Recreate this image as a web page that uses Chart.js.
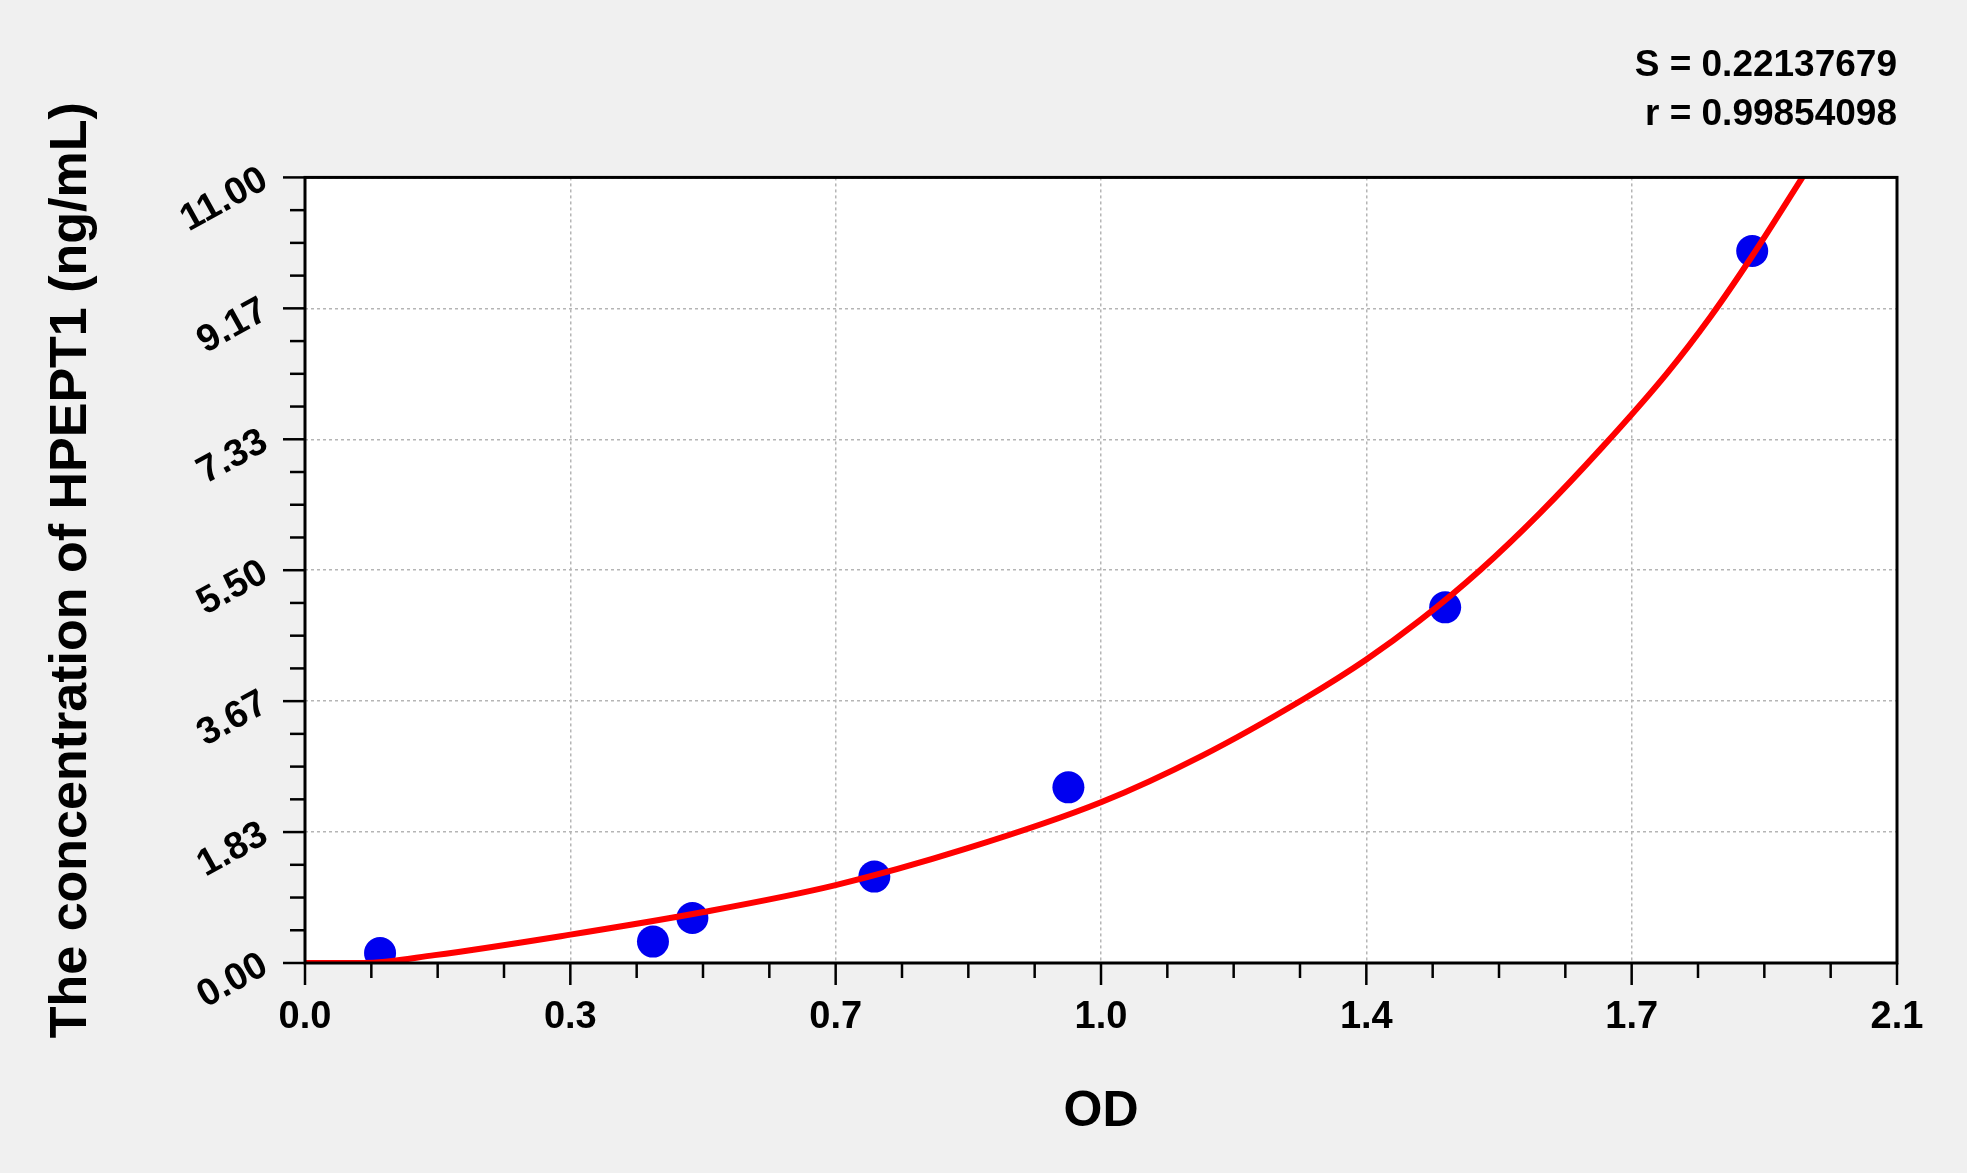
<!DOCTYPE html>
<html>
<head>
<meta charset="utf-8">
<script src="https://cdn.jsdelivr.net/npm/chart.js@4.4.1/dist/chart.umd.min.js"></script>
<style>
  html, body { margin: 0; padding: 0; background: #f0f0f0; }
  #wrap { width: 1967px; height: 1173px; }
</style>
</head>
<body>
<div id="wrap"><canvas id="c" width="1967" height="1173"></canvas></div>
<script>
// ---- data ----
const pointsX = [0.099, 0.459, 0.511, 0.751, 1.007, 1.504, 1.909];
const pointsY = [0.14, 0.30, 0.63, 1.21, 2.46, 4.98, 9.97];

const curveX = [0, 0.077, 0.171, 0.346, 0.524, 0.70, 0.872, 1.05, 1.183, 1.318, 1.40, 1.471, 1.55, 1.629, 1.711, 1.796, 1.854, 1.909, 1.977];
const curveY = [0, 0, 0.11, 0.39, 0.71, 1.09, 1.60, 2.25, 2.90, 3.70, 4.25, 4.80, 5.50, 6.30, 7.22, 8.25, 9.05, 9.90, 11.03];

const xTickValues = [0, 0.35, 0.70, 1.05, 1.40, 1.75, 2.10];
const xTickLabels = ['0.0', '0.3', '0.7', '1.0', '1.4', '1.7', '2.1'];
const yTickValues = [0, 1.8333333, 3.6666667, 5.5, 7.3333333, 9.1666667, 11];
const yTickLabels = ['0.00', '1.83', '3.67', '5.50', '7.33', '9.17', '11.00'];

const statLines = ['S = 0.22137679', 'r = 0.99854098'];
const xTitle = 'OD';
const yTitle = 'The concentration of HPEPT1 (ng/mL)';

const FONT = "'Liberation Sans', Arial, Helvetica, sans-serif";
const MINOR_PER_MAJOR = 4;

function buildTicks(values) {
  const out = [];
  for (let i = 0; i < values.length; i++) {
    out.push({ value: values[i], major: true, idx: i });
    if (i < values.length - 1) {
      const step = (values[i + 1] - values[i]) / MINOR_PER_MAJOR;
      for (let k = 1; k < MINOR_PER_MAJOR; k++) {
        out.push({ value: values[i] + k * step, major: false });
      }
    }
  }
  return out;
}

const bgPlugin = {
  id: 'bg',
  beforeDraw(chart) {
    const { ctx, chartArea: a } = chart;
    ctx.save();
    ctx.fillStyle = '#f0f0f0';
    ctx.fillRect(0, 0, chart.width, chart.height);
    ctx.fillStyle = '#ffffff';
    ctx.fillRect(a.left, a.top, a.right - a.left, a.bottom - a.top);
    ctx.restore();
  }
};

const framePlugin = {
  id: 'frame',
  afterDraw(chart) {
    const { ctx, chartArea: a } = chart;
    const xs = chart.scales.x, ys = chart.scales.y;
    ctx.save();
    ctx.strokeStyle = '#000';
    ctx.lineWidth = 2.5;
    ctx.lineCap = 'butt';
    xs.ticks.forEach(t => {
      const px = xs.getPixelForValue(t.value);
      const len = t.major ? 22 : 15;
      ctx.beginPath();
      ctx.moveTo(px, a.bottom);
      ctx.lineTo(px, a.bottom + len);
      ctx.stroke();
    });
    ys.ticks.forEach(t => {
      const py = ys.getPixelForValue(t.value);
      const len = t.major ? 22 : 15;
      ctx.beginPath();
      ctx.moveTo(a.left, py);
      ctx.lineTo(a.left - len, py);
      ctx.stroke();
    });
    ctx.lineWidth = 3;
    ctx.strokeRect(a.left, a.top, a.right - a.left, a.bottom - a.top);
    ctx.restore();
  }
};

const gridColor = (ctx) => (ctx.tick && ctx.tick.major) ? '#b5b5b5' : 'rgba(0,0,0,0)';

new Chart(document.getElementById('c'), {
  type: 'scatter',
  data: {
    datasets: [
      {
        label: 'fit',
        data: curveX.map((x, i) => ({ x: x, y: curveY[i] })),
        showLine: true,
        borderColor: '#ff0000',
        borderWidth: 6,
        pointRadius: 0,
        pointHoverRadius: 0,
        cubicInterpolationMode: 'monotone',
        fill: false
      },
      {
        label: 'points',
        data: pointsX.map((x, i) => ({ x: x, y: pointsY[i] })),
        showLine: false,
        pointRadius: 16,
        pointBackgroundColor: '#0000f0',
        pointBorderColor: '#0000f0',
        pointBorderWidth: 0
      }
    ]
  },
  options: {
    responsive: false,
    animation: false,
    devicePixelRatio: 1,
    layout: { padding: { left: 0, right: 70, top: 0, bottom: 0 } },
    plugins: {
      legend: { display: false },
      tooltip: { enabled: false },
      title: {
        display: true,
        text: statLines,
        align: 'end',
        color: '#000',
        font: { family: FONT, size: 37, weight: 'bold', lineHeight: 1.33 },
        padding: { top: 41, bottom: 38 }
      }
    },
    scales: {
      x: {
        type: 'linear',
        min: 0,
        max: 2.1,
        afterBuildTicks: (scale) => { scale.ticks = buildTicks(xTickValues); },
        afterFit: (scale) => { scale.height = 210; },
        ticks: {
          autoSkip: false,
          maxRotation: 0,
          minRotation: 0,
          padding: 32,
          color: '#000',
          font: { family: FONT, size: 38, weight: 'bold' },
          callback: function (value, index, ticks) {
            const t = ticks[index];
            return (t && t.major) ? xTickLabels[t.idx] : '';
          }
        },
        grid: { color: gridColor, lineWidth: 1.5, drawTicks: false },
        border: { display: false, dash: [3, 3] },
        title: {
          display: true,
          text: xTitle,
          color: '#000',
          font: { family: FONT, size: 50, weight: 'bold', lineHeight: 1.2 },
          padding: { top: 0, bottom: 31 }
        }
      },
      y: {
        type: 'linear',
        min: 0,
        max: 11,
        afterBuildTicks: (scale) => { scale.ticks = buildTicks(yTickValues); },
        afterFit: (scale) => { scale.width = 305; },
        ticks: {
          autoSkip: false,
          minRotation: 29,
          maxRotation: 29,
          padding: 40,
          color: '#000',
          font: { family: FONT, size: 38, weight: 'bold' },
          callback: function (value, index, ticks) {
            const t = ticks[index];
            return (t && t.major) ? yTickLabels[t.idx] : '';
          }
        },
        grid: { color: gridColor, lineWidth: 1.5, drawTicks: false },
        border: { display: false, dash: [3, 3] },
        title: {
          display: true,
          text: yTitle,
          color: '#000',
          font: { family: FONT, size: 52, weight: 'bold', lineHeight: 1.2 },
          padding: { top: 40, bottom: 0 }
        }
      }
    }
  },
  plugins: [bgPlugin, framePlugin]
});
</script>
</body>
</html>
